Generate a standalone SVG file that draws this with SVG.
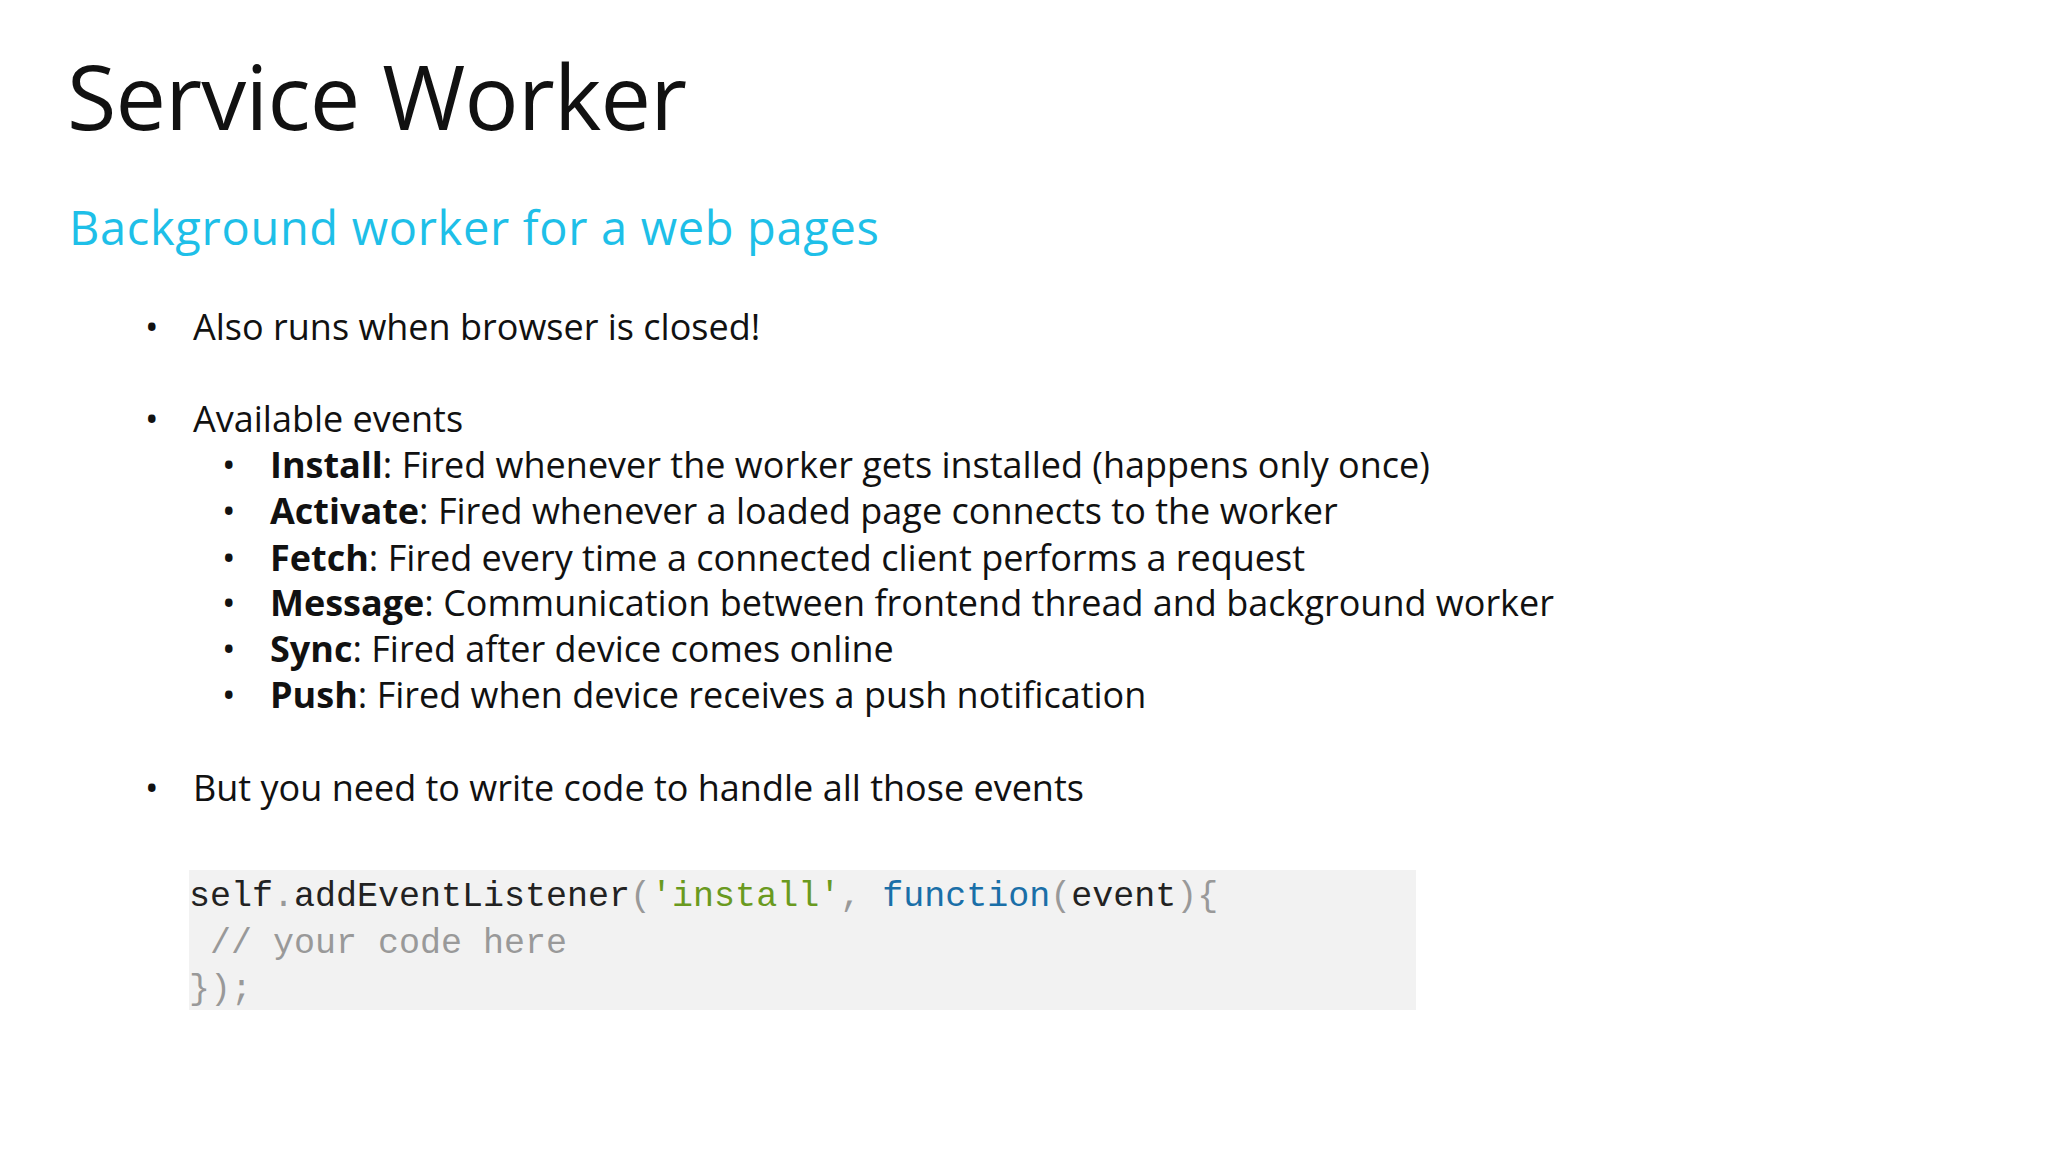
<svg xmlns="http://www.w3.org/2000/svg" width="2048" height="1152" viewBox="0 0 2048 1152">
<style>
.t{font-family:"Open Sans","Noto Sans",sans-serif;fill:#111}
.b{font-size:36px}
.c{font-family:"Liberation Mono","DejaVu Sans Mono",monospace;font-size:35px;fill:#222}
</style>
<rect width="2048" height="1152" fill="#fff"/>
<g id="title"><text class="t" x="67" y="130" font-size="90" textLength="620">Service Worker</text></g>
<g id="subtitle"><text class="t" x="69" y="245" font-size="47" style="fill:#1ebfe8" textLength="810">Background worker for a web pages</text></g>
<g id="bullets">
<text class="t b" x="145" y="340">•</text><text class="t b" x="193" y="340">Also runs when browser is closed!</text>
<text class="t b" x="145" y="432">•</text><text class="t b" x="193" y="432">Available events</text>
<text class="t b" x="222" y="478">•</text><text class="t b" x="270" y="478"><tspan font-weight="bold">Install</tspan>: Fired whenever the worker gets installed (happens only once)</text>
<text class="t b" x="222" y="524">•</text><text class="t b" x="270" y="524"><tspan font-weight="bold">Activate</tspan>: Fired whenever a loaded page connects to the worker</text>
<text class="t b" x="222" y="571">•</text><text class="t b" x="270" y="571"><tspan font-weight="bold">Fetch</tspan>: Fired every time a connected client performs a request</text>
<text class="t b" x="222" y="616">•</text><text class="t b" x="270" y="616"><tspan font-weight="bold">Message</tspan>: Communication between frontend thread and background worker</text>
<text class="t b" x="222" y="662">•</text><text class="t b" x="270" y="662"><tspan font-weight="bold">Sync</tspan>: Fired after device comes online</text>
<text class="t b" x="222" y="708">•</text><text class="t b" x="270" y="708"><tspan font-weight="bold">Push</tspan>: Fired when device receives a push notification</text>
<text class="t b" x="145" y="801">•</text><text class="t b" x="193" y="801">But you need to write code to handle all those events</text>
</g>
<g id="code">
<rect x="189" y="870" width="1227" height="140" fill="#f2f2f2"/>
<text class="c" x="189" y="906" xml:space="preserve">self<tspan fill="#999">.</tspan>addEventListener<tspan fill="#999">(</tspan><tspan fill="#6a9a1f">'install'</tspan><tspan fill="#999">, </tspan><tspan fill="#1a6fa8">function</tspan><tspan fill="#999">(</tspan>event<tspan fill="#999">){</tspan></text>
<text class="c" x="189" y="953" style="fill:#999" xml:space="preserve"> // your code here</text>
<text class="c" x="189" y="999" style="fill:#999">});</text>
</g>
</svg>
